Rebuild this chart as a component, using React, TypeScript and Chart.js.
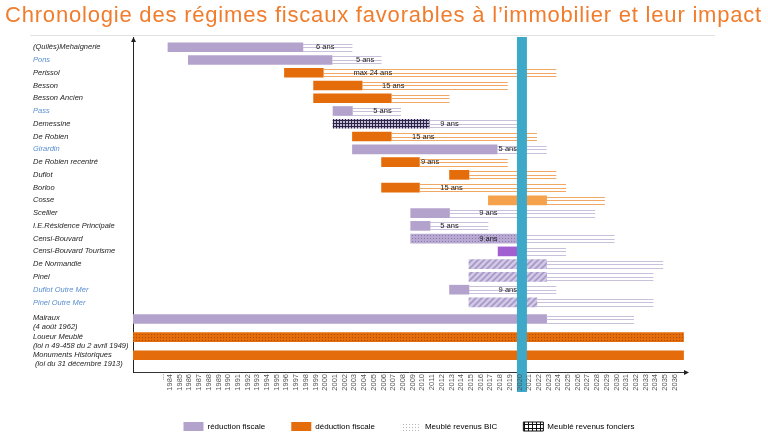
import React, { useEffect, useRef } from "react";
import { Chart, registerables } from "chart.js";

Chart.register(...registerables);

const FONT = '"Liberation Sans", Arial, Helvetica, sans-serif';
const TITLE = "Chronologie des régimes fiscaux favorables à l’immobilier et leur impact";

// ---- data ----
const regimes: (string | string[])[] = [
  "(Quilès)Mehaignerie", "Pons", "Perissol", "Besson", "Besson Ancien", "Pass",
  "Demessine", "De Robien", "Girardin", "De Robien recentré", "Duflot", "Borloo",
  "Cosse", "Scellier", "I.E.Résidence Principale", "Censi-Bouvard",
  "Censi-Bouvard Tourisme", "De Normandie", "Pinel", "Duflot Outre Mer", "Pinel Outre Mer",
  ["Malraux", "(4 août 1962)"],
  ["Loueur Meublé", "(loi n 49-458 du 2 avril 1949)"],
  ["Monuments Historiques", " (loi du 31 décembre 1913)"],
];
const blueRows = [1, 5, 8, 19, 20];
const kinds = [
  "reduction", "reduction", "deduction", "deduction", "deduction", "reduction",
  "foncier", "deduction", "reduction", "deduction", "deduction", "deduction",
  "cosse", "reduction", "reduction", "bic", "tourisme", "hatch", "hatch",
  "reduction", "hatch", "reduction", "bicDeduction", "deduction",
];
const barStart = [1983.8, 1985.9, 1995.8, 1998.8, 1998.8, 2000.8, 2000.8, 2002.8, 2002.8, 2005.8, 2012.8, 2005.8,
  2016.8, 2008.8, 2008.8, 2008.8, 2017.8, 2014.8, 2014.8, 2012.8, 2014.8, 1980.2, 1980.2, 1980.2];
const barEnd = [1997.7, 2000.7, 1999.8, 2003.8, 2006.8, 2002.8, 2010.7, 2006.8, 2017.7, 2009.7, 2014.8, 2009.7,
  2022.8, 2012.8, 2010.8, 2019.8, 2019.8, 2022.8, 2022.8, 2014.8, 2021.8, 2022.8, 2036.9, 2036.9];
const durationEnd: (number | null)[] = [2002.8, 2005.8, 2023.8, 2018.8, 2012.8, 2007.8, 2019.8, 2021.8, 2022.8, 2018.8,
  2023.8, 2024.8, 2028.8, 2027.8, 2016.8, 2029.8, 2024.8, 2034.8, 2033.8, 2023.8, 2033.8, 2031.8, null, null];
const durationText = ["6 ans", "5 ans", "max 24 ans", "15 ans", "", "5 ans", "9 ans", "15 ans", "5 ans", "9 ans",
  "", "15 ans", "", "9 ans", "5 ans", "9 ans", "", "", "", "9 ans", "", "", "", ""];
const durationTextAt: (number | null)[] = [2000.0, 2004.1, 2004.9, 2007.0, null, 2005.9, 2012.8, 2010.1, 2018.8, 2010.8,
  null, 2013.0, null, 2016.8, 2012.8, 2016.8, null, null, null, 2018.8, null, null, null, null];

const xTickValues = [1983.2, ...Array.from({ length: 53 }, (_, i) => 1984 + i)];
const xTickLabels = xTickValues.map((v, i) => (i === 0 ? "..." : String(v)));
const highlightYear = 2020;
const legendLabels = ["réduction fiscale", "déduction fiscale", "Meublé revenus BIC", "Meublé revenus fonciers"];

// ---- layout helpers ----
const X_MIN = 1980.2;
const X_MAX = 2037.05;
const rowSlot = (i: number) => (i < 21 ? i : 21.3 + (i - 21) * 1.42);
const labelSlot = (i: number) => (i < 21 ? rowSlot(i) : rowSlot(i) + 0.3);

const COLORS: Record<string, string> = {
  reduction: "#b3a2cc",
  deduction: "#e46c0a",
  cosse: "#f6a24c",
  tourisme: "#a25fd2",
};
const orangeKinds = ["deduction", "cosse", "bicDeduction"];

function pattern(size: number, draw: (g: CanvasRenderingContext2D, s: number) => void): CanvasPattern {
  const c = document.createElement("canvas");
  c.width = size;
  c.height = size;
  const g = c.getContext("2d")!;
  draw(g, size);
  return g.createPattern(c, "repeat")!;
}

function makeFills() {
  const foncier = pattern(3, (g) => {
    g.fillStyle = "#c3b8dc"; g.fillRect(0, 0, 3, 3);
    g.fillStyle = "#2a2540"; g.fillRect(0, 0, 3, 1); g.fillRect(0, 0, 1, 3);
  });
  const bic = pattern(3, (g) => {
    g.fillStyle = "#b8a9d3"; g.fillRect(0, 0, 3, 3);
    g.fillStyle = "#8a7ab0"; g.fillRect(1, 1, 1, 1);
  });
  const bicDeduction = pattern(3, (g) => {
    g.fillStyle = "#e46c0a"; g.fillRect(0, 0, 3, 3);
    g.fillStyle = "#a94d06"; g.fillRect(1, 1, 1, 1);
  });
  const hatch = pattern(6, (g) => {
    g.fillStyle = "#d2c9e4"; g.fillRect(0, 0, 6, 6);
    g.strokeStyle = "#a797c9"; g.lineWidth = 1.6;
    g.beginPath();
    g.moveTo(0, 6); g.lineTo(6, 0);
    g.moveTo(-3, 3); g.lineTo(3, -3);
    g.moveTo(3, 9); g.lineTo(9, 3);
    g.stroke();
  });
  const legendBic = pattern(3, (g) => {
    g.fillStyle = "#ffffff"; g.fillRect(0, 0, 3, 3);
    g.fillStyle = "#b4b4b4"; g.fillRect(1, 1, 1, 1);
  });
  const legendFoncier = pattern(4, (g) => {
    g.fillStyle = "#ffffff"; g.fillRect(0, 0, 4, 4);
    g.fillStyle = "#111111"; g.fillRect(0, 0, 4, 1); g.fillRect(0, 0, 1, 4);
  });
  const bars: Record<string, string | CanvasPattern> = { ...COLORS, foncier, bic, bicDeduction, hatch };
  return { bars, legend: [COLORS.reduction, COLORS.deduction, legendBic, legendFoncier] };
}

const overlayPlugin = {
  id: "overlay",
  afterDatasetsDraw(chart: any) {
    const { ctx, chartArea } = chart;
    const x = chart.scales.x;
    const meta = chart.getDatasetMeta(0);
    ctx.save();
    meta.data.forEach((el: any, i: number) => {
      const { y: cy, height } = el.getProps(["y", "height"], true);
      const end = durationEnd[i];
      if (end != null) {
        const x0 = x.getPixelForValue(barEnd[i]);
        const x1 = x.getPixelForValue(end);
        ctx.strokeStyle = orangeKinds.includes(kinds[i]) ? "#f1a864" : "#c9c0db";
        ctx.lineWidth = 1;
        const top = cy - height / 2;
        const bot = cy + height / 2;
        [top + 1, cy, bot - 1].forEach((yy) => {
          const py = Math.round(yy) + 0.5;
          ctx.beginPath();
          ctx.moveTo(x0, py);
          ctx.lineTo(x1, py);
          ctx.stroke();
        });
      }
      const at = durationTextAt[i];
      if (durationText[i] && at != null) {
        ctx.fillStyle = "#1a1a1a";
        ctx.font = `7.5px ${FONT}`;
        ctx.textAlign = "center";
        ctx.textBaseline = "middle";
        ctx.fillText(durationText[i], x.getPixelForValue(at), cy);
      }
    });
    const bx0 = x.getPixelForValue(highlightYear - 0.26);
    const bx1 = x.getPixelForValue(highlightYear + 0.77);
    ctx.fillStyle = "#3ea8c9";
    ctx.fillRect(bx0, chartArea.top, bx1 - bx0, chartArea.bottom + 20 - chartArea.top);
    ctx.restore();
  },
  afterDraw(chart: any) {
    const { ctx, chartArea } = chart;
    ctx.save();
    ctx.fillStyle = "#222";
    const lx = chartArea.left + 0.5;
    ctx.beginPath();
    ctx.moveTo(lx, chartArea.top);
    ctx.lineTo(lx - 2.5, chartArea.top + 5);
    ctx.lineTo(lx + 2.5, chartArea.top + 5);
    ctx.closePath();
    ctx.fill();
    const by = chartArea.bottom + 0.5;
    ctx.beginPath();
    ctx.moveTo(chartArea.right + 4, by);
    ctx.lineTo(chartArea.right - 1, by - 2.5);
    ctx.lineTo(chartArea.right - 1, by + 2.5);
    ctx.closePath();
    ctx.fill();
    ctx.restore();
  },
};

export default function App() {
  const ref = useRef<HTMLCanvasElement>(null);

  useEffect(() => {
    const canvas = ref.current;
    if (!canvas) return;
    const fills = makeFills();
    const chart = new Chart(canvas, {
      type: "bar",
      data: {
        datasets: [
          {
            label: "régimes",
            data: regimes.map((_, i) => ({ x: [barStart[i], barEnd[i]], y: rowSlot(i) })) as any,
            backgroundColor: kinds.map((k) => fills.bars[k]) as any,
            borderWidth: 0,
            barThickness: 9,
          },
        ],
      },
      options: {
        indexAxis: "y",
        responsive: false,
        animation: false,
        events: [],
        layout: { padding: { left: 33, right: 83, top: 37, bottom: -5 } },
        scales: {
          x: {
            type: "linear",
            position: "bottom",
            min: X_MIN,
            max: X_MAX,
            offset: false,
            grid: { display: false, drawTicks: false },
            border: { display: true, color: "#333", width: 1 },
            afterBuildTicks: (s: any) => {
              s.ticks = xTickValues.map((v) => ({ value: v }));
            },
            afterFit: (s: any) => {
              s.height = 24;
            },
            ticks: {
              z: 1,
              autoSkip: false,
              minRotation: 90,
              maxRotation: 90,
              padding: 2,
              color: "#555",
              font: { size: 7.5, family: FONT },
              callback: (_v: any, i: number) => xTickLabels[i],
            },
          },
          y: {
            type: "linear",
            position: "left",
            reverse: true,
            min: -0.8,
            max: 25.45,
            offset: false,
            grid: { display: false, drawTicks: false },
            border: { display: true, color: "#222", width: 1 },
            afterBuildTicks: (s: any) => {
              s.ticks = regimes.map((_, i) => ({ value: labelSlot(i) }));
            },
            afterFit: (s: any) => {
              s.width = 100;
            },
            ticks: {
              autoSkip: false,
              crossAlign: "far",
              color: (c: any) => (blueRows.includes(c.index) ? "#5b8fd0" : "#1e1e1e"),
              font: { size: 7.5, style: "italic", family: FONT },
              callback: (_v: any, i: number) => regimes[i],
            },
          },
        },
        plugins: {
          tooltip: { enabled: false },
          title: { display: false },
          legend: {
            display: true,
            position: "bottom",
            align: "center",
            fullSize: false,
            onClick: () => {},
            labels: {
              boxWidth: 20,
              boxHeight: 9,
              padding: 26,
              color: "#333",
              font: { size: 8, family: FONT },
              generateLabels: () =>
                legendLabels.map((text, i) => ({
                  text,
                  fillStyle: fills.legend[i] as any,
                  strokeStyle: i === 3 ? "#111" : "rgba(0,0,0,0)",
                  lineWidth: i === 3 ? 1 : 0,
                  hidden: false,
                  datasetIndex: 0,
                  index: i,
                })),
            },
          },
        },
      } as any,
      plugins: [overlayPlugin],
    });
    return () => chart.destroy();
  }, []);

  return (
    <div style={{ position: "absolute", left: 0, top: 0, width: 768, height: 436, background: "#fff", overflow: "hidden" }}>
      <canvas ref={ref} width={768} height={436} style={{ position: "absolute", left: 0, top: 0, width: 768, height: 436 }} />
      <div
        style={{
          position: "absolute",
          left: 5,
          top: 2,
          font: `22px ${FONT}`,
          letterSpacing: "0.8px",
          lineHeight: "26px",
          color: "#f07c2c",
          whiteSpace: "nowrap",
        }}
      >
        {TITLE}
      </div>
      <div style={{ position: "absolute", left: 30, top: 35, width: 685, height: 1, background: "#e2e2e2" }} />
    </div>
  );
}
